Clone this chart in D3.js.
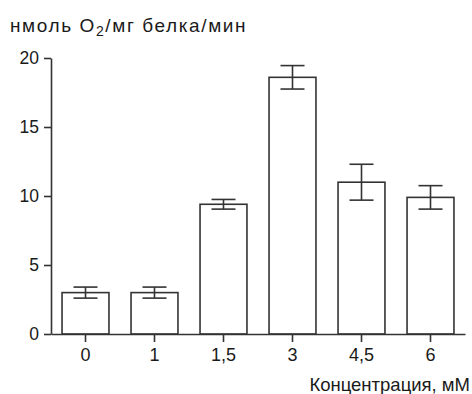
<!DOCTYPE html>
<html lang="ru">
<head>
  <meta charset="UTF-8">
  <style>
    body { margin: 0; background: #fff; }
    svg { font-family: "Liberation Sans", Arial, sans-serif; }
    .axis path, .axis line { stroke: #333; stroke-width: 1.6; }
    .axis text { fill: #1a1a1a; font-size: 17.5px; }
    .bar { fill: #fff; stroke: #333; stroke-width: 1.6; }
    .err { stroke: #333; stroke-width: 1.6; fill: none; }
  </style>
</head>
<body>
  <svg class="chart"></svg>
  <script src="https://cdnjs.cloudflare.com/ajax/libs/d3/7.8.5/d3.min.js"></script>
  <script>
    const categories = ['0', '1', '1,5', '3', '4,5', '6']
    const values = [3.0, 3.0, 9.4, 18.6, 11.0, 9.9]
    const errors = [0.4, 0.4, 0.35, 0.85, 1.3, 0.85]
    const yTicks = [0, 5, 10, 15, 20]

    const chart = { width: 472, height: 394 }
    const margin = { left: 51, top: 58, bottom: 334, right: 465 }

    const svg = d3.select('.chart')
      .attr('width', chart.width)
      .attr('height', chart.height)

    const x = d3.scaleBand()
      .domain(categories)
      .range([margin.left, margin.right])
      .paddingInner(0.32)
      .paddingOuter(0.16)

    const y = d3.scaleLinear()
      .domain([0, 20])
      .range([margin.bottom, margin.top])

    // bars
    svg.selectAll('rect.bar')
      .data(values)
      .enter().append('rect')
        .attr('class', 'bar')
        .attr('x', (d, i) => x(categories[i]))
        .attr('y', d => y(d))
        .attr('width', x.bandwidth())
        .attr('height', d => y(0) - y(d))

    // error bars
    const capW = 12
    const cx = i => x(categories[i]) + x.bandwidth() / 2
    const eb = svg.selectAll('g.eb')
      .data(values)
      .enter().append('g')
        .attr('class', 'err')
    eb.append('line')
      .attr('x1', (d, i) => cx(i))
      .attr('x2', (d, i) => cx(i))
      .attr('y1', (d, i) => y(d + errors[i]))
      .attr('y2', (d, i) => y(d - errors[i]))
    eb.append('line')
      .attr('x1', (d, i) => cx(i) - capW)
      .attr('x2', (d, i) => cx(i) + capW)
      .attr('y1', (d, i) => y(d + errors[i]))
      .attr('y2', (d, i) => y(d + errors[i]))
    eb.append('line')
      .attr('x1', (d, i) => cx(i) - capW)
      .attr('x2', (d, i) => cx(i) + capW)
      .attr('y1', (d, i) => y(d - errors[i]))
      .attr('y2', (d, i) => y(d - errors[i]))

    // axes
    svg.append('g')
      .attr('class', 'axis')
      .attr('transform', `translate(0,${margin.bottom})`)
      .call(d3.axisBottom(x).tickSize(8).tickSizeOuter(0).tickPadding(6))
      .call(g => g.selectAll('text').attr('font-family', null).attr('font-size', null).style('font-size', '18px'))

    svg.append('g')
      .attr('class', 'axis')
      .attr('transform', `translate(${margin.left},0)`)
      .call(d3.axisLeft(y).tickValues(yTicks).tickSize(7).tickSizeOuter(0).tickPadding(5))
      .call(g => g.selectAll('text').attr('font-family', null).attr('font-size', null))

    // y title
    const title = svg.append('text')
      .attr('x', 10)
      .attr('y', 32)
      .attr('fill', '#1a1a1a')
      .style('font-size', '19px')
      .style('letter-spacing', '1.6px')
    title.append('tspan').text('нмоль O')
    title.append('tspan').attr('dy', 4).style('font-size', '14px').text('2')
    title.append('tspan').attr('dy', -4).text('/мг белка/мин')

    // x title
    svg.append('text')
      .attr('x', 470)
      .attr('y', 391)
      .attr('text-anchor', 'end')
      .attr('fill', '#1a1a1a')
      .style('font-size', '18.5px')
      .text('Концентрация, мМ')
  </script>
</body>
</html>
